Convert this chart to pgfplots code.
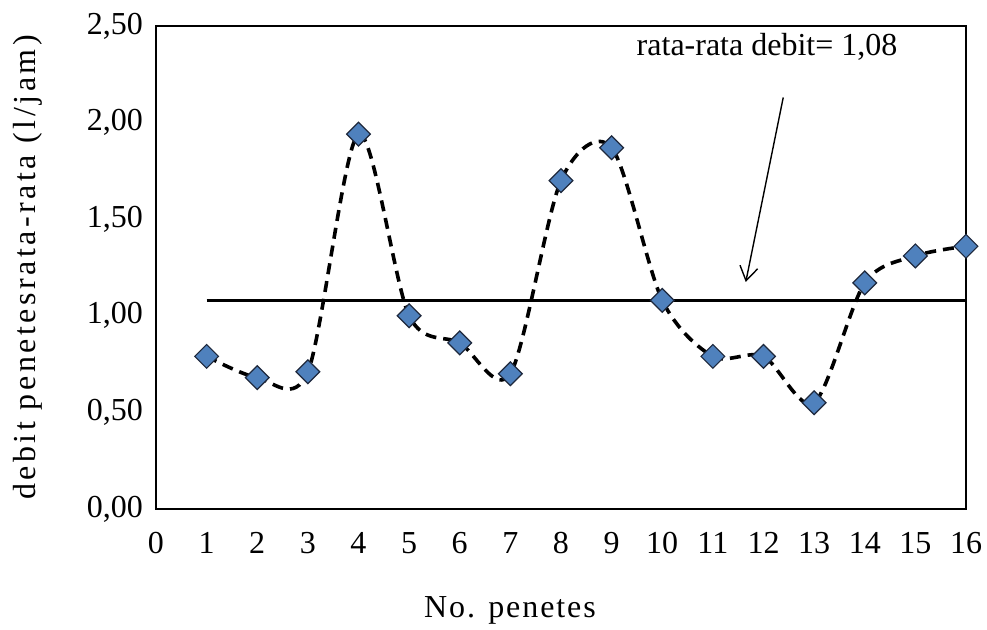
\documentclass[border=0pt]{standalone}
\usepackage{pgfplots}
\pgfplotsset{compat=1.18}
\usepackage{fontspec}
\setmainfont{Liberation Serif}
\usetikzlibrary{arrows.meta}
\definecolor{mkblue}{RGB}{79,129,189}
\definecolor{mkedge}{RGB}{30,40,60}
\newcommand{\fs}{\fontsize{16}{19}\selectfont}
\begin{document}
\begin{tikzpicture}
\begin{axis}[
  name=ax,
  width=405pt, height=241.5pt, scale only axis,
  xmin=0, xmax=16, ymin=0, ymax=2.5,
  xtick={0,1,...,16},
  ytick={0,0.5,1,1.5,2,2.5},
  major tick length=0pt,
  axis line style={black, line width=0.9pt},
  clip=false,
  tick label style={font=\fs},
  /pgf/number format/assume math mode=true,
  yticklabel style={/pgf/number format/.cd, fixed, fixed zerofill, precision=2, use comma, /tikz/.cd, xshift=-3pt},
  xticklabel style={yshift=-8pt},
  every axis x label/.style={at={(axis description cs:0.437,-0.209)}, anchor=center, font=\fs\addfontfeature{LetterSpace=6}},
  every axis y label/.style={at={(axis description cs:-0.158,0.5)}, anchor=center, rotate=90, font=\fs\addfontfeature{LetterSpace=11}},
  xlabel={No. penetes},
  ylabel={debit penetesrata-rata (l/jam)},
]
\addplot[black, line width=1.6pt] coordinates {(1,1.08) (16,1.08)};
\addplot[black, line width=1.8pt, dash pattern=on 5.5pt off 3.5pt, smooth, tension=0.5,
  mark=square*, mark size=4.2pt,
  mark options={solid, rotate=45, fill=mkblue, draw=mkedge, line width=0.6pt}]
  coordinates {
  (1,0.79) (2,0.68) (3,0.71) (4,1.94) (5,1.00) (6,0.86) (7,0.70) (8,1.70)
  (9,1.87) (10,1.08) (11,0.79) (12,0.79) (13,0.55) (14,1.17) (15,1.31) (16,1.36)
  };
\node[font=\fs] at (axis cs:12.07,2.39) {rata-rata debit= 1,08};
\draw[line width=0.7pt, -{Straight Barb[length=7pt, width=9pt]}] (axis cs:12.39,2.13) -- (axis cs:11.65,1.175);
\end{axis}
\pgfresetboundingbox
\path ([shift={(-78pt,-60.5pt)}]ax.south west) rectangle ([shift={(10.5pt,13pt)}]ax.north east);
\end{tikzpicture}
\end{document}
